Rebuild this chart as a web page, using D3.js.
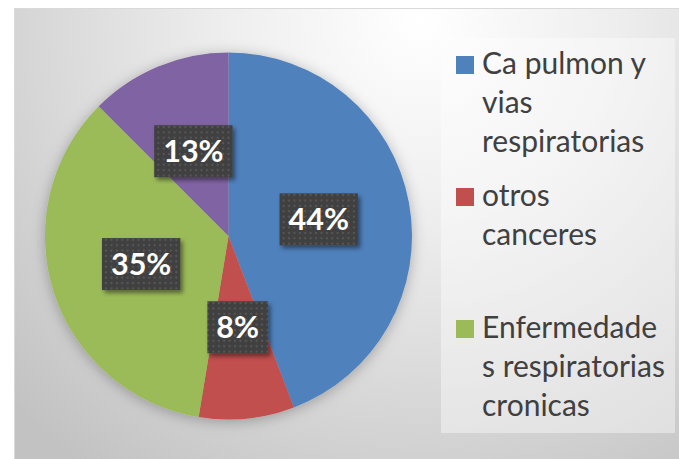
<!DOCTYPE html>
<meta charset="utf-8">
<style>

body {
  margin: 0;
  background: #fff;
}

.legend text {
  font: 30px Lato, sans-serif;
  fill: #404040;
}

.label text {
  font: bold 30.5px Lato, sans-serif;
  fill: #fff;
  text-anchor: middle;
}

</style>
<svg width="679" height="459"></svg>
<script src="https://cdn.jsdelivr.net/npm/d3@7"></script>
<script>

// Pie chart data (shares in percent)
var categories = ["Ca pulmon y vias respiratorias", "otros canceres", "Enfermedades respiratorias cronicas", "otras causas"];
var values = [44.2, 8.4, 34.9, 12.5];
var colors = ["#4f81bd", "#c0504d", "#9bbb59", "#8064a2"];

// legend shows only the first three entries, wrapped like the original
var legendLines = [
  ["Ca pulmon y", "vias", "respiratorias"],
  ["otros", "canceres"],
  ["Enfermedade", "s respiratorias", "cronicas"]
];

var svg = d3.select("svg");

var width = +svg.attr("width"),
    height = +svg.attr("height");

var cx = 228.5,
    cy = 236,
    radius = 183.5;

var defs = svg.append("defs");

var bg = defs.append("radialGradient")
    .attr("id", "bg")
    .attr("gradientUnits", "userSpaceOnUse")
    .attr("cx", 420).attr("cy", 20).attr("r", 560);
bg.append("stop").attr("offset", 0).attr("stop-color", "#ffffff");
bg.append("stop").attr("offset", 0.35).attr("stop-color", "#eeeeee");
bg.append("stop").attr("offset", 1).attr("stop-color", "#c2c2c2");

var dots = defs.append("pattern")
    .attr("id", "dots")
    .attr("patternUnits", "userSpaceOnUse")
    .attr("width", 5.4).attr("height", 5.4);
dots.append("rect").attr("width", 5.4).attr("height", 5.4).attr("fill", "#404040");
dots.append("rect").attr("x", 1.7).attr("y", 1.7).attr("width", 2).attr("height", 2).attr("fill", "#575757");

var glow = defs.append("filter")
    .attr("id", "glow")
    .attr("x", "-20%").attr("y", "-20%").attr("width", "140%").attr("height", "140%");
glow.append("feDropShadow")
    .attr("dx", 0).attr("dy", 2).attr("stdDeviation", 7)
    .attr("flood-color", "#000").attr("flood-opacity", 0.28);

var shadow = defs.append("filter")
    .attr("id", "shadow")
    .attr("x", "-20%").attr("y", "-20%").attr("width", "150%").attr("height", "150%");
shadow.append("feDropShadow")
    .attr("dx", 2.5).attr("dy", 3).attr("stdDeviation", 2)
    .attr("flood-color", "#000").attr("flood-opacity", 0.45);

// chart area
svg.append("rect")
    .attr("x", 14.5).attr("y", 8.5)
    .attr("width", width).attr("height", height)
    .attr("fill", "url(#bg)")
    .attr("stroke", "#d9d9d9");

var pie = d3.pie().sort(null);
var arcs = pie(values);

var arc = d3.arc().innerRadius(0).outerRadius(radius);

var g = svg.append("g")
    .attr("transform", "translate(" + cx + "," + cy + ")");

g.append("g")
    .attr("filter", "url(#glow)")
  .selectAll("path")
  .data(arcs)
  .enter().append("path")
    .attr("d", arc)
    .attr("fill", function(d, i) { return colors[i]; });

var label = g.selectAll(".label")
  .data(arcs)
  .enter().append("g")
    .attr("class", "label")
    .attr("transform", function(d) { return "translate(" + arc.centroid(d) + ")"; });

var total = d3.sum(values);

label.append("text")
    .attr("dy", "0.36em")
    .text(function(d) { return Math.round(d.value / total * 100) + "%"; });

label.insert("rect", "text")
    .each(function() {
      var w = this.parentNode.querySelector("text").getComputedTextLength() + 18;
      d3.select(this)
          .attr("x", -w / 2).attr("y", -26)
          .attr("width", w).attr("height", 52);
    })
    .attr("fill", "url(#dots)")
    .attr("filter", "url(#shadow)");

// legend
var legendY = d3.scaleLinear().domain([0, 1]).range([74, 206]);

var legend = svg.append("g")
    .attr("class", "legend");

legend.append("rect")
    .attr("x", 441).attr("y", 38)
    .attr("width", 234).attr("height", 395)
    .attr("fill", "#ffffff")
    .attr("fill-opacity", 0.4);

var entry = legend.selectAll(".entry")
  .data(legendLines)
  .enter().append("g")
    .attr("class", "entry")
    .attr("transform", function(d, i) { return "translate(456," + legendY(i) + ")"; });

entry.append("rect")
    .attr("y", -18)
    .attr("width", 18).attr("height", 18)
    .attr("fill", function(d, i) { return colors[i]; });

entry.append("text")
  .selectAll("tspan")
  .data(function(d) { return d; })
  .enter().append("tspan")
    .attr("x", 26)
    .attr("y", function(d, j) { return j * 39; })
    .text(function(d) { return d; });

</script>
